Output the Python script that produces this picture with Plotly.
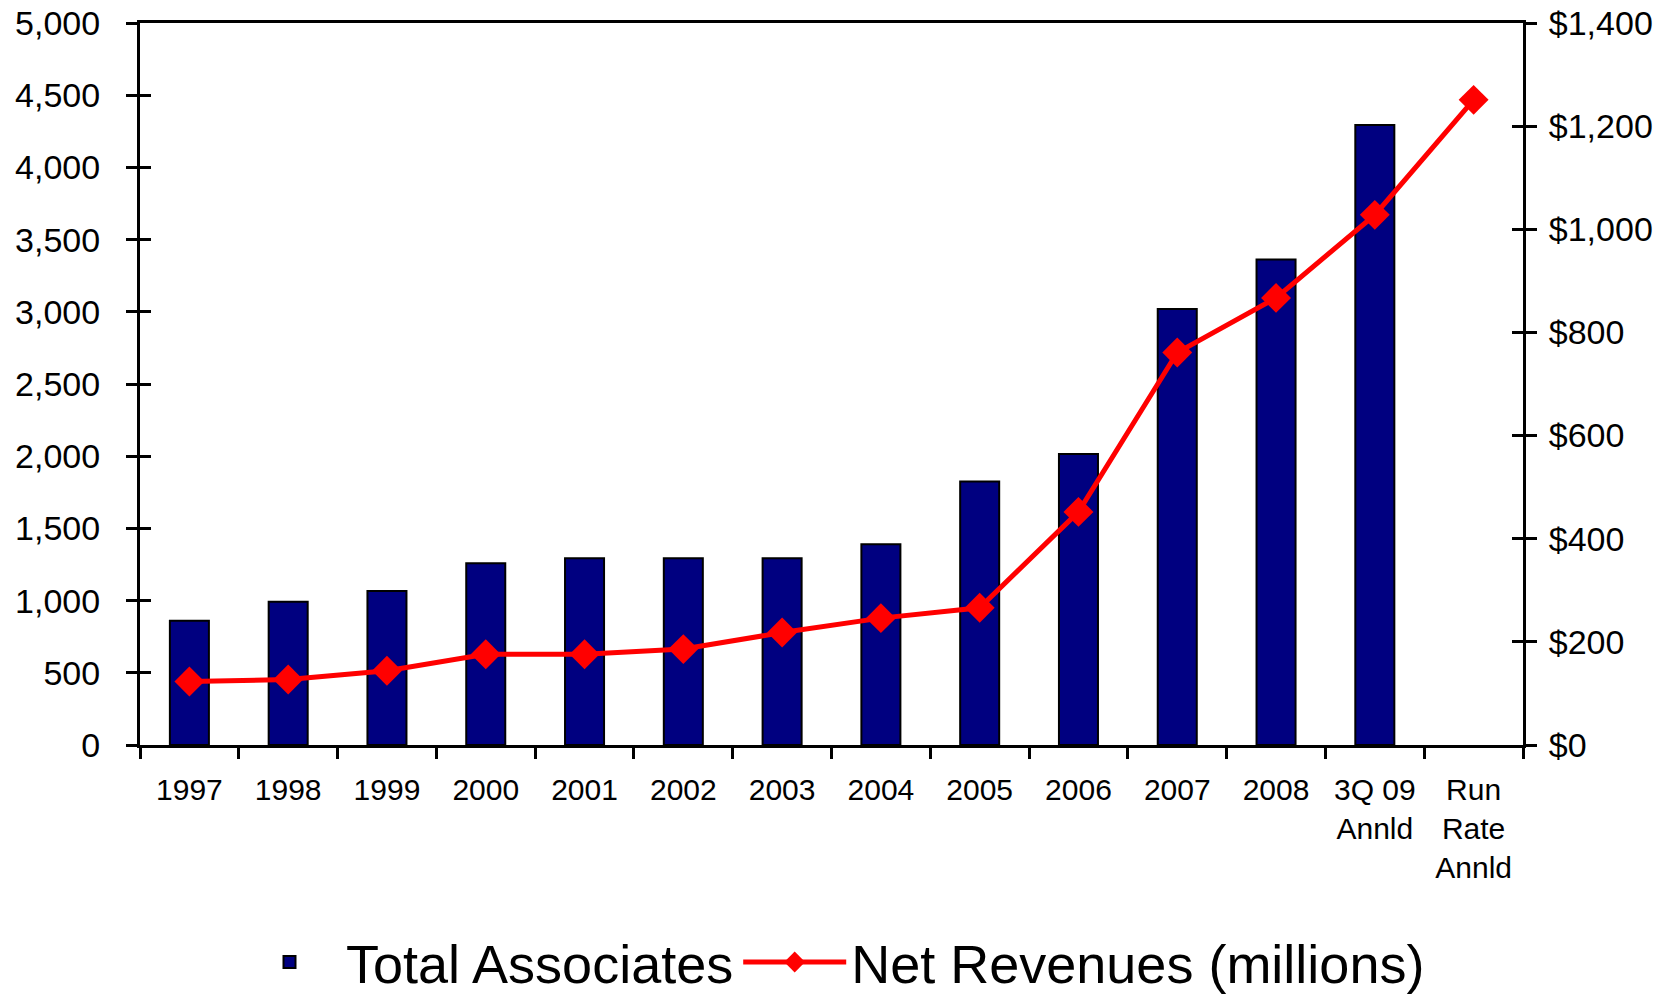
import plotly.graph_objects as go

categories = ["1997", "1998", "1999", "2000", "2001", "2002", "2003", "2004",
              "2005", "2006", "2007", "2008", "3Q 09<br>Annld", "Run<br>Rate<br>Annld"]
total_associates = [861, 992, 1066, 1258, 1293, 1293, 1293, 1390,
                    1824, 2015, 3019, 3363, 4294, None]
net_revenues = [123, 127, 144, 176, 176, 186, 218, 246,
                266, 452, 761, 867, 1028, 1251]

FONT = "Arial, Liberation Sans, sans-serif"

fig = go.Figure()
fig.add_trace(go.Bar(
    x=categories, y=total_associates, name="Total Associates",
    marker=dict(color="#000080", line=dict(color="#000000", width=2)),
    yaxis="y",
))
fig.add_trace(go.Scatter(
    x=categories, y=net_revenues, name="Net Revenues (millions)",
    mode="lines+markers",
    line=dict(color="#FF0000", width=5),
    marker=dict(symbol="diamond", size=23, color="#FF0000"),
    yaxis="y2",
))
# helper (empty) traces so the inside half of the crossing ticks is drawn
fig.add_trace(go.Scatter(x=categories, y=[None] * len(categories), yaxis="y3",
                         showlegend=False, hoverinfo="skip"))
fig.add_trace(go.Scatter(x=categories, y=[None] * len(categories), yaxis="y4",
                         showlegend=False, hoverinfo="skip"))

common_y = dict(showgrid=False, zeroline=False, showline=True, linecolor="black",
                linewidth=3, tickcolor="black", tickwidth=2.5, ticklen=11,
                automargin=False, ticklabeloverflow="allow")

# the page body adds an 8px margin, so the figure is 8px smaller than the window
fig.update_layout(
    width=1661, height=988,
    margin=dict(l=132, r=146, t=15, b=251, autoexpand=False),
    paper_bgcolor="white", plot_bgcolor="white",
    font=dict(family=FONT, color="black"),
    bargap=0.605,
    showlegend=True,
    legend=dict(orientation="h", x=0.5, xanchor="center", xref="paper",
                y=0.034, yref="container", yanchor="middle",
                font=dict(size=54, family=FONT), itemwidth=103,
                tracegroupgap=0),
    xaxis=dict(type="category", range=[-0.5, len(categories) - 0.5],
               showline=True, mirror=True, linecolor="black",
               linewidth=3, ticks="outside", tickson="boundaries", ticklen=11,
               tickwidth=2.5, tickcolor="black", showgrid=False, automargin=False,
               tickfont=dict(size=30, family=FONT), ticklabelstandoff=16,
               ticklabeloverflow="allow"),
    yaxis=dict(range=[0, 5000], dtick=500, tickformat=",", ticks="outside",
               tickfont=dict(size=34, family=FONT), ticklabelstandoff=19,
               **common_y),
    yaxis2=dict(range=[0, 1400], dtick=200, tickformat=",", tickprefix="$",
                overlaying="y", side="right", ticks="outside",
                tickfont=dict(size=34, family=FONT), ticklabelstandoff=5,
                **common_y),
    yaxis3=dict(range=[0, 5000], dtick=500, overlaying="y", side="left",
                ticks="inside", showticklabels=False, **common_y),
    yaxis4=dict(range=[0, 1400], dtick=200, overlaying="y", side="right",
                ticks="inside", showticklabels=False, **common_y),
)

fig.write_html("out.html")
